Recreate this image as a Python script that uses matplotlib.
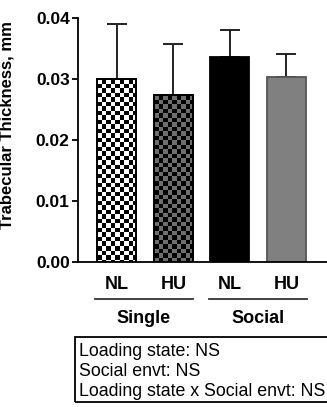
import numpy as np
import matplotlib
matplotlib.use("Agg")
import matplotlib.pyplot as plt
from matplotlib.patches import Rectangle
import matplotlib.transforms as mtransforms

plt.rcParams["font.family"] = ["Liberation Sans", "DejaVu Sans"]

# data
conditions = ["NL", "HU", "NL", "HU"]
groups = ["Single", "Social"]
means = [0.0300, 0.0273, 0.0336, 0.0304]
errors = [0.0090, 0.0085, 0.0045, 0.0037]
stats_lines = [
    "Loading state: NS",
    "Social envt: NS",
    "Loading state x Social envt: NS",
]

fills = ["white", "#6e6e6e", "black", "#808080"]
checks = [True, True, False, False]

W, H, DPI = 327, 407, 100
fig = plt.figure(figsize=(W / DPI, H / DPI), dpi=DPI)
ax = fig.add_axes([78 / W, 1 - 262 / H, (327 - 78) / W, (262 - 18) / H])

x = np.arange(len(means))
bars = ax.bar(x, means, width=0.69, color=fills, edgecolor="black",
              linewidth=1.3, zorder=2)
bars[3].set_edgecolor("#555555")

ax.errorbar(x, means, yerr=[np.zeros(len(errors)), errors], fmt="none",
            ecolor="#222222", elinewidth=1.4, capsize=7.5, capthick=1.4,
            zorder=1)

# checkerboard fills
cell_x = 0.08
cell_y = 0.00074
for b, chk in zip(bars, checks):
    if not chk:
        continue
    x0, w, h = b.get_x(), b.get_width(), b.get_height()
    nx = int(np.ceil(w / cell_x))
    ny = int(np.ceil(h / cell_y))
    board = (np.indices((ny, nx)).sum(axis=0) % 2).astype(float)
    rgba = np.zeros((ny, nx, 4))
    rgba[..., 3] = board
    im = ax.imshow(rgba, extent=[x0, x0 + nx * cell_x, h - ny * cell_y, h],
                   origin="upper", interpolation="nearest", aspect="auto",
                   zorder=2.5)
    im.set_clip_path(b)
    outline = Rectangle((x0, 0), w, h, fill=False, edgecolor="black",
                        linewidth=1.3, zorder=3)
    ax.add_patch(outline)

ax.set_xlim(-0.69, 3.72)
ax.set_ylim(0, 0.04)
ax.set_yticks([0, 0.01, 0.02, 0.03, 0.04])
ax.set_yticklabels(["0.00", "0.01", "0.02", "0.03", "0.04"])
ax.set_xticks(x)
ax.set_xticklabels(conditions)
for lbl in ax.get_yticklabels():
    lbl.set_fontweight("bold")
    lbl.set_fontsize(12.5)
for lbl in ax.get_xticklabels():
    lbl.set_fontweight("bold")
    lbl.set_fontsize(13)
ax.tick_params(axis="x", length=0, pad=10)
ax.tick_params(axis="y", length=4, width=1.3, pad=2)
ax.spines["top"].set_visible(False)
ax.spines["right"].set_visible(False)
ax.spines["left"].set_linewidth(1.3)
ax.spines["bottom"].set_linewidth(1.3)
ax.set_ylabel("Trabecular Thickness, mm", fontsize=12, fontweight="bold",
              labelpad=6)
ax.yaxis.set_label_coords(-63 / 249, 0.56)

# group brackets
trans = mtransforms.blended_transform_factory(ax.transData, ax.transAxes)
spans = [(-0.39, 1.345), (1.63, 3.36)]
for (a, b), g in zip(spans, groups):
    ax.plot([a, b], [-0.152, -0.152], color="#333333", lw=1.3,
            transform=trans, clip_on=False)
    ax.text((a + b) / 2, -0.23, g, transform=trans, ha="center",
            va="center", fontsize=13, fontweight="bold")

# stats box
fig.patches.append(Rectangle((75 / W, 1 - 402 / H), 260 / W, 65 / H,
                             transform=fig.transFigure, fill=False,
                             edgecolor="black", linewidth=1.3))
for i, s in enumerate(stats_lines):
    fig.text(79 / W, 1 - (352 + 19.5 * i) / H, s, ha="left", va="center",
             fontsize=12.8)

fig.savefig("out.png", dpi=DPI)
